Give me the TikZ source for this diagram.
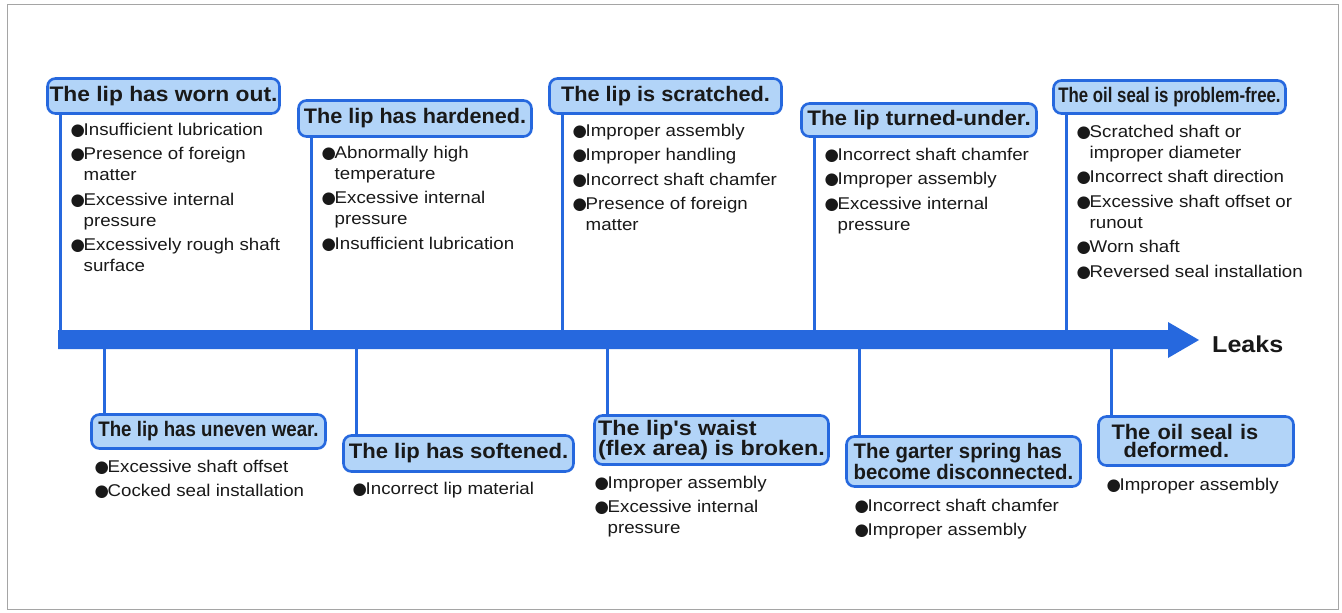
\documentclass[tikz,border=0pt]{standalone}
\usepackage{fontspec}
\usepackage{graphicx}
\setmainfont{Liberation Sans}
\newfontfamily\bodyf{Liberation Sans}[FakeStretch=1.1]
\newfontfamily\titlef{Liberation Sans}
\newfontfamily\bulf{DejaVu Sans}
\newcommand\bul{\makebox[12.5pt][l]{\hspace*{-0.5pt}\bulf\fontsize{16.5}{16.5}\selectfont ●}}
\newcommand\ind{\hspace*{12.5pt}}
\newcommand\sxx[2]{\scalebox{#1}[1]{#2}}
\definecolor{lineblue}{RGB}{38,104,222}
\definecolor{boxfill}{RGB}{178,212,248}
\definecolor{txt}{RGB}{25,25,25}
\definecolor{framegray}{RGB}{165,165,165}
\tikzset{
  titlebox/.style={draw=lineblue, fill=boxfill, line width=2.6pt, rounded corners=8pt,
    font={\titlef\bfseries\fontsize{21}{18.5}\selectfont}, text=txt, inner sep=0pt, align=left},
  items/.style={anchor=base west, inner sep=0pt, align=left, text=txt,
    font={\bodyf\fontsize{17}{21}\selectfont}},
  conn/.style={draw=lineblue, line width=2.8pt},
}
\begin{document}
\begin{tikzpicture}[x=1pt,y=-1pt]
\useasboundingbox (0,0) rectangle (1342,613);
\fill[white] (0,0) rectangle (1342,613);
\draw[framegray, line width=1.8pt] (7.5,4.5) rectangle (1338.5,609.5);

% timeline bar
\coordinate (bartop) at (0,331);
\coordinate (barbot) at (0,348);
\fill[lineblue] (58,330) -- (1168,330) -- (1168,322) -- (1199,340) -- (1168,358) -- (1168,349) -- (58,349) -- cycle;
\node[anchor=base west, inner sep=0pt, text=txt, font={\titlef\bfseries\fontsize{23}{23}\selectfont}] (leaks) at (1212,352) {\sxx{1.09}{Leaks}};

% upper boxes
\node[titlebox, minimum width=232pt, minimum height=35pt] (t1) at (163.5,96) {\sxx{1.085}{The lip has worn out.}};
\node[titlebox, minimum width=233pt, minimum height=36pt] (t2) at (415,118.5) {\sxx{1.03}{The lip has hardened.}};
\node[titlebox, minimum width=232pt, minimum height=35pt] (t3) at (665.5,96) {\sxx{1.035}{The lip is scratched.}};
\node[titlebox, minimum width=235pt, minimum height=33pt] (t4) at (919,120) {\sxx{1.07}{The lip turned-under.}};
\node[titlebox, minimum width=232pt, minimum height=33pt] (t5) at (1169.5,97) {\sxx{0.80}{The oil seal is problem-free.}};

% lower boxes
\node[titlebox, minimum width=234pt, minimum height=34pt] (b1) at (208.5,431.5) {\sxx{0.89}{The lip has uneven wear.}};
\node[titlebox, minimum width=230pt, minimum height=36pt] (b2) at (458.5,453.5) {\sxx{1.05}{The lip has softened.}};
\node[titlebox, minimum width=234pt, minimum height=49pt] (b3) at (711.5,440) {\sxx{1.11}{The lip's waist}\\\sxx{1.11}{(flex area) is broken.}};
\node[titlebox, minimum width=234pt, minimum height=50pt] (b4) at (963.5,461.5) {\sxx{0.97}{The garter spring has}\\\sxx{0.97}{become disconnected.}};
\node[titlebox, minimum width=195pt, minimum height=49pt, text width=169pt] (b5) at (1196,441) {\sxx{1.04}{The oil seal is}\\\hspace*{12pt}\sxx{1.04}{deformed.}};

% connectors
\foreach \n in {t1,t2,t3,t4,t5}{
  \draw[conn] ([xshift=14.5pt]\n.south west) -- ([xshift=14.5pt]\n.south west |- bartop);
}
\foreach \n in {b1,b2,b3,b4,b5}{
  \draw[conn] ([xshift=14.5pt]\n.north west) -- ([xshift=14.5pt]\n.north west |- barbot);
}

% upper item lists (anchored at the baseline of the last line)
\node[items] (u1) at (71,271.5) {\bul Insufficient lubrication\\[3.5pt]
\bul Presence of foreign\\ \ind matter\\[3.5pt]
\bul Excessive internal\\ \ind pressure\\[3.5pt]
\bul Excessively rough shaft\\ \ind surface};
\node[items] (u2) at (322,249) {\bul Abnormally high\\ \ind temperature\\[3.5pt]
\bul Excessive internal\\ \ind pressure\\[3.5pt]
\bul Insufficient lubrication};
\node[items] (u3) at (573,230.5) {\bul Improper assembly\\[3.5pt]
\bul Improper handling\\[3.5pt]
\bul Incorrect shaft chamfer\\[3.5pt]
\bul Presence of foreign\\ \ind matter};
\node[items] (u4) at (825,230) {\bul Incorrect shaft chamfer\\[3.5pt]
\bul Improper assembly\\[3.5pt]
\bul Excessive internal\\ \ind pressure};
\node[items] (u5) at (1077,277) {\bul Scratched shaft or\\ \ind improper diameter\\[3.5pt]
\bul Incorrect shaft direction\\[3.5pt]
\bul Excessive shaft offset or\\ \ind runout\\[3.5pt]
\bul Worn shaft\\[3.5pt]
\bul Reversed seal installation};

% lower item lists
\node[items] (l1) at (95,496.5) {\bul Excessive shaft offset\\[3.5pt]
\bul Cocked seal installation};
\node[items] (l2) at (353,494) {\bul Incorrect lip material};
\node[items] (l3) at (595,533.5) {\bul Improper assembly\\[3.5pt]
\bul Excessive internal\\ \ind pressure};
\node[items] (l4) at (855,535.5) {\bul Incorrect shaft chamfer\\[3.5pt]
\bul Improper assembly};
\node[items] (l5) at (1107,490) {\bul Improper assembly};
\end{tikzpicture}
\end{document}
